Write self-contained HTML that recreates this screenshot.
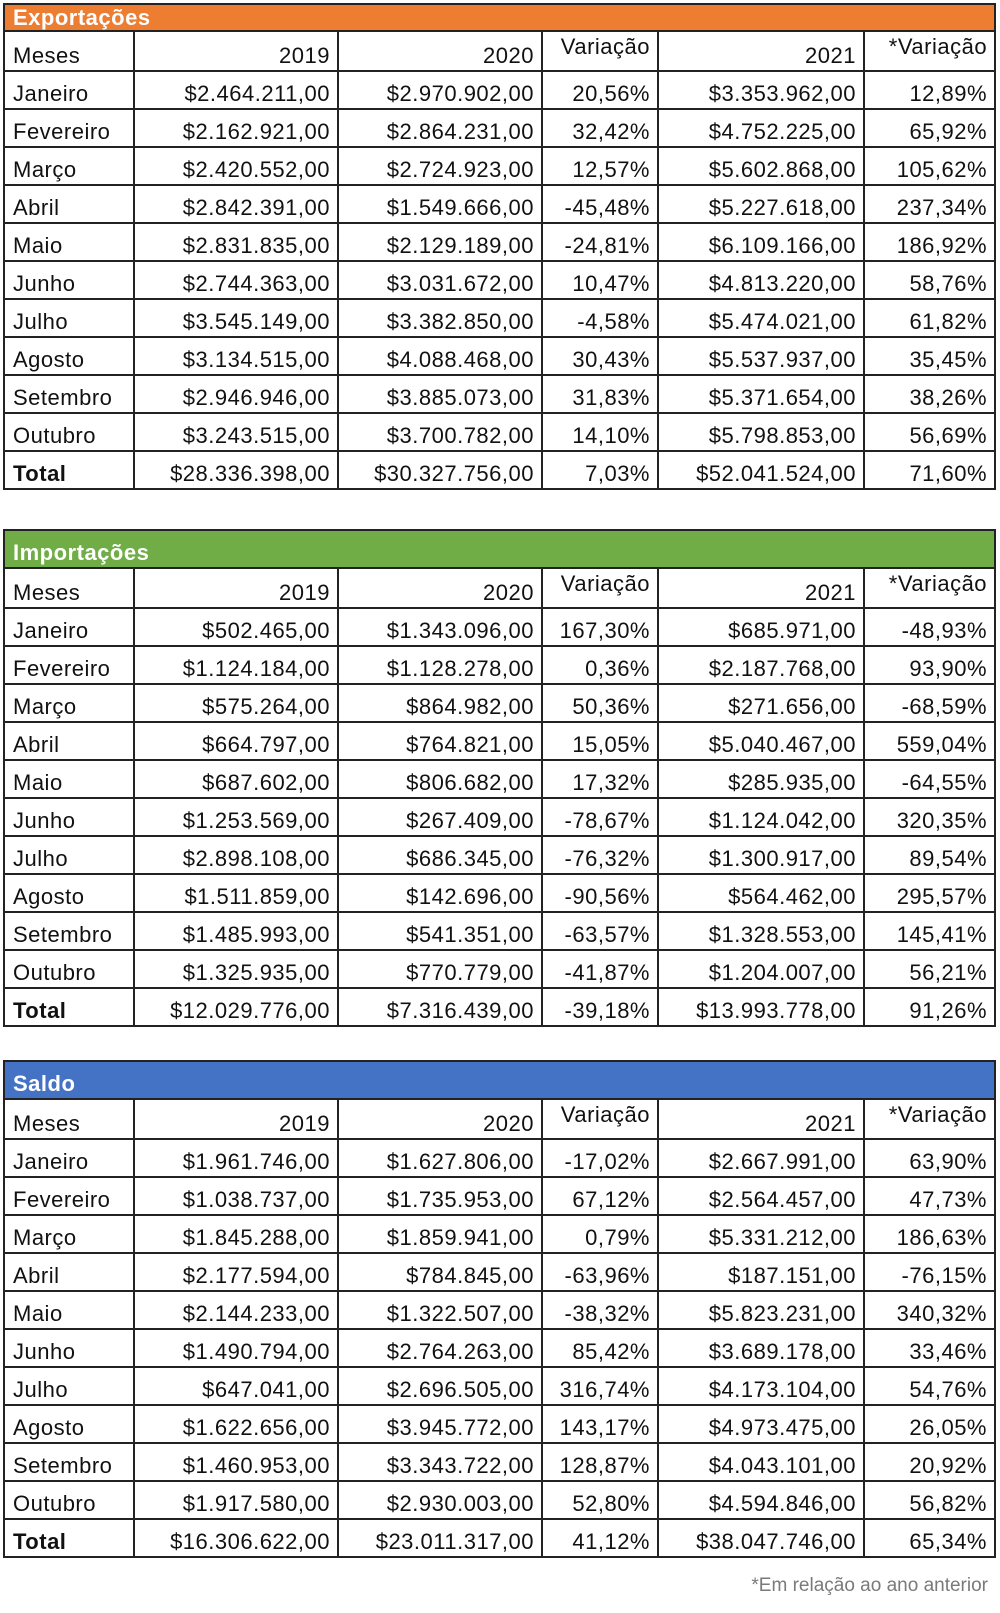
<!DOCTYPE html>
<html><head><meta charset="utf-8"><style>
body{margin:0;width:1000px;height:1613px;background:#fff;position:relative;overflow:hidden}
table{position:absolute;left:3px;border-collapse:collapse;table-layout:fixed;width:991px;font-family:"Liberation Sans",sans-serif;font-size:22px;letter-spacing:0.5px;color:#111}
td{border:2px solid #222;height:35px;padding:0 7px 1px 7px;text-align:right;vertical-align:bottom;white-space:nowrap;overflow:hidden;line-height:26px}
td:first-child{text-align:left;padding-left:8px}
tr.h td{color:#fff;font-weight:bold;text-align:left;padding-left:8px;border-bottom:2px solid #222}
tr.t td{font-weight:normal}
tr.t td:first-child{font-weight:bold}
td.v{vertical-align:top;padding-top:2px}
.f{position:absolute;right:12px;top:1575px;font-family:"Liberation Sans",sans-serif;font-size:19px;color:#7a7a7a}
</style></head><body>

<table style="top:3px">
<colgroup><col style="width:130px"><col style="width:204px"><col style="width:204px"><col style="width:116px"><col style="width:206px"><col style="width:131px"></colgroup>
<tr class="h"><td colspan="6" style="background:#ED7D31;height:25px;line-height:24px;padding-bottom:0">Exportações</td></tr>
<tr><td>Meses</td><td>2019</td><td>2020</td><td class="v">Variação</td><td>2021</td><td class="v">*Variação</td></tr>
<tr><td>Janeiro</td><td>$2.464.211,00</td><td>$2.970.902,00</td><td>20,56%</td><td>$3.353.962,00</td><td>12,89%</td></tr>
<tr><td>Fevereiro</td><td>$2.162.921,00</td><td>$2.864.231,00</td><td>32,42%</td><td>$4.752.225,00</td><td>65,92%</td></tr>
<tr><td>Março</td><td>$2.420.552,00</td><td>$2.724.923,00</td><td>12,57%</td><td>$5.602.868,00</td><td>105,62%</td></tr>
<tr><td>Abril</td><td>$2.842.391,00</td><td>$1.549.666,00</td><td>-45,48%</td><td>$5.227.618,00</td><td>237,34%</td></tr>
<tr><td>Maio</td><td>$2.831.835,00</td><td>$2.129.189,00</td><td>-24,81%</td><td>$6.109.166,00</td><td>186,92%</td></tr>
<tr><td>Junho</td><td>$2.744.363,00</td><td>$3.031.672,00</td><td>10,47%</td><td>$4.813.220,00</td><td>58,76%</td></tr>
<tr><td>Julho</td><td>$3.545.149,00</td><td>$3.382.850,00</td><td>-4,58%</td><td>$5.474.021,00</td><td>61,82%</td></tr>
<tr><td>Agosto</td><td>$3.134.515,00</td><td>$4.088.468,00</td><td>30,43%</td><td>$5.537.937,00</td><td>35,45%</td></tr>
<tr><td>Setembro</td><td>$2.946.946,00</td><td>$3.885.073,00</td><td>31,83%</td><td>$5.371.654,00</td><td>38,26%</td></tr>
<tr><td>Outubro</td><td>$3.243.515,00</td><td>$3.700.782,00</td><td>14,10%</td><td>$5.798.853,00</td><td>56,69%</td></tr>
<tr class="t"><td>Total</td><td>$28.336.398,00</td><td>$30.327.756,00</td><td>7,03%</td><td>$52.041.524,00</td><td>71,60%</td></tr>
</table>

<table style="top:529px">
<colgroup><col style="width:130px"><col style="width:204px"><col style="width:204px"><col style="width:116px"><col style="width:206px"><col style="width:131px"></colgroup>
<tr class="h"><td colspan="6" style="background:#70AD47">Importações</td></tr>
<tr><td>Meses</td><td>2019</td><td>2020</td><td class="v">Variação</td><td>2021</td><td class="v">*Variação</td></tr>
<tr><td>Janeiro</td><td>$502.465,00</td><td>$1.343.096,00</td><td>167,30%</td><td>$685.971,00</td><td>-48,93%</td></tr>
<tr><td>Fevereiro</td><td>$1.124.184,00</td><td>$1.128.278,00</td><td>0,36%</td><td>$2.187.768,00</td><td>93,90%</td></tr>
<tr><td>Março</td><td>$575.264,00</td><td>$864.982,00</td><td>50,36%</td><td>$271.656,00</td><td>-68,59%</td></tr>
<tr><td>Abril</td><td>$664.797,00</td><td>$764.821,00</td><td>15,05%</td><td>$5.040.467,00</td><td>559,04%</td></tr>
<tr><td>Maio</td><td>$687.602,00</td><td>$806.682,00</td><td>17,32%</td><td>$285.935,00</td><td>-64,55%</td></tr>
<tr><td>Junho</td><td>$1.253.569,00</td><td>$267.409,00</td><td>-78,67%</td><td>$1.124.042,00</td><td>320,35%</td></tr>
<tr><td>Julho</td><td>$2.898.108,00</td><td>$686.345,00</td><td>-76,32%</td><td>$1.300.917,00</td><td>89,54%</td></tr>
<tr><td>Agosto</td><td>$1.511.859,00</td><td>$142.696,00</td><td>-90,56%</td><td>$564.462,00</td><td>295,57%</td></tr>
<tr><td>Setembro</td><td>$1.485.993,00</td><td>$541.351,00</td><td>-63,57%</td><td>$1.328.553,00</td><td>145,41%</td></tr>
<tr><td>Outubro</td><td>$1.325.935,00</td><td>$770.779,00</td><td>-41,87%</td><td>$1.204.007,00</td><td>56,21%</td></tr>
<tr class="t"><td>Total</td><td>$12.029.776,00</td><td>$7.316.439,00</td><td>-39,18%</td><td>$13.993.778,00</td><td>91,26%</td></tr>
</table>

<table style="top:1060px">
<colgroup><col style="width:130px"><col style="width:204px"><col style="width:204px"><col style="width:116px"><col style="width:206px"><col style="width:131px"></colgroup>
<tr class="h"><td colspan="6" style="background:#4472C4">Saldo</td></tr>
<tr><td>Meses</td><td>2019</td><td>2020</td><td class="v">Variação</td><td>2021</td><td class="v">*Variação</td></tr>
<tr><td>Janeiro</td><td>$1.961.746,00</td><td>$1.627.806,00</td><td>-17,02%</td><td>$2.667.991,00</td><td>63,90%</td></tr>
<tr><td>Fevereiro</td><td>$1.038.737,00</td><td>$1.735.953,00</td><td>67,12%</td><td>$2.564.457,00</td><td>47,73%</td></tr>
<tr><td>Março</td><td>$1.845.288,00</td><td>$1.859.941,00</td><td>0,79%</td><td>$5.331.212,00</td><td>186,63%</td></tr>
<tr><td>Abril</td><td>$2.177.594,00</td><td>$784.845,00</td><td>-63,96%</td><td>$187.151,00</td><td>-76,15%</td></tr>
<tr><td>Maio</td><td>$2.144.233,00</td><td>$1.322.507,00</td><td>-38,32%</td><td>$5.823.231,00</td><td>340,32%</td></tr>
<tr><td>Junho</td><td>$1.490.794,00</td><td>$2.764.263,00</td><td>85,42%</td><td>$3.689.178,00</td><td>33,46%</td></tr>
<tr><td>Julho</td><td>$647.041,00</td><td>$2.696.505,00</td><td>316,74%</td><td>$4.173.104,00</td><td>54,76%</td></tr>
<tr><td>Agosto</td><td>$1.622.656,00</td><td>$3.945.772,00</td><td>143,17%</td><td>$4.973.475,00</td><td>26,05%</td></tr>
<tr><td>Setembro</td><td>$1.460.953,00</td><td>$3.343.722,00</td><td>128,87%</td><td>$4.043.101,00</td><td>20,92%</td></tr>
<tr><td>Outubro</td><td>$1.917.580,00</td><td>$2.930.003,00</td><td>52,80%</td><td>$4.594.846,00</td><td>56,82%</td></tr>
<tr class="t"><td>Total</td><td>$16.306.622,00</td><td>$23.011.317,00</td><td>41,12%</td><td>$38.047.746,00</td><td>65,34%</td></tr>
</table>

<div class="f">*Em relação ao ano anterior</div>
</body></html>
